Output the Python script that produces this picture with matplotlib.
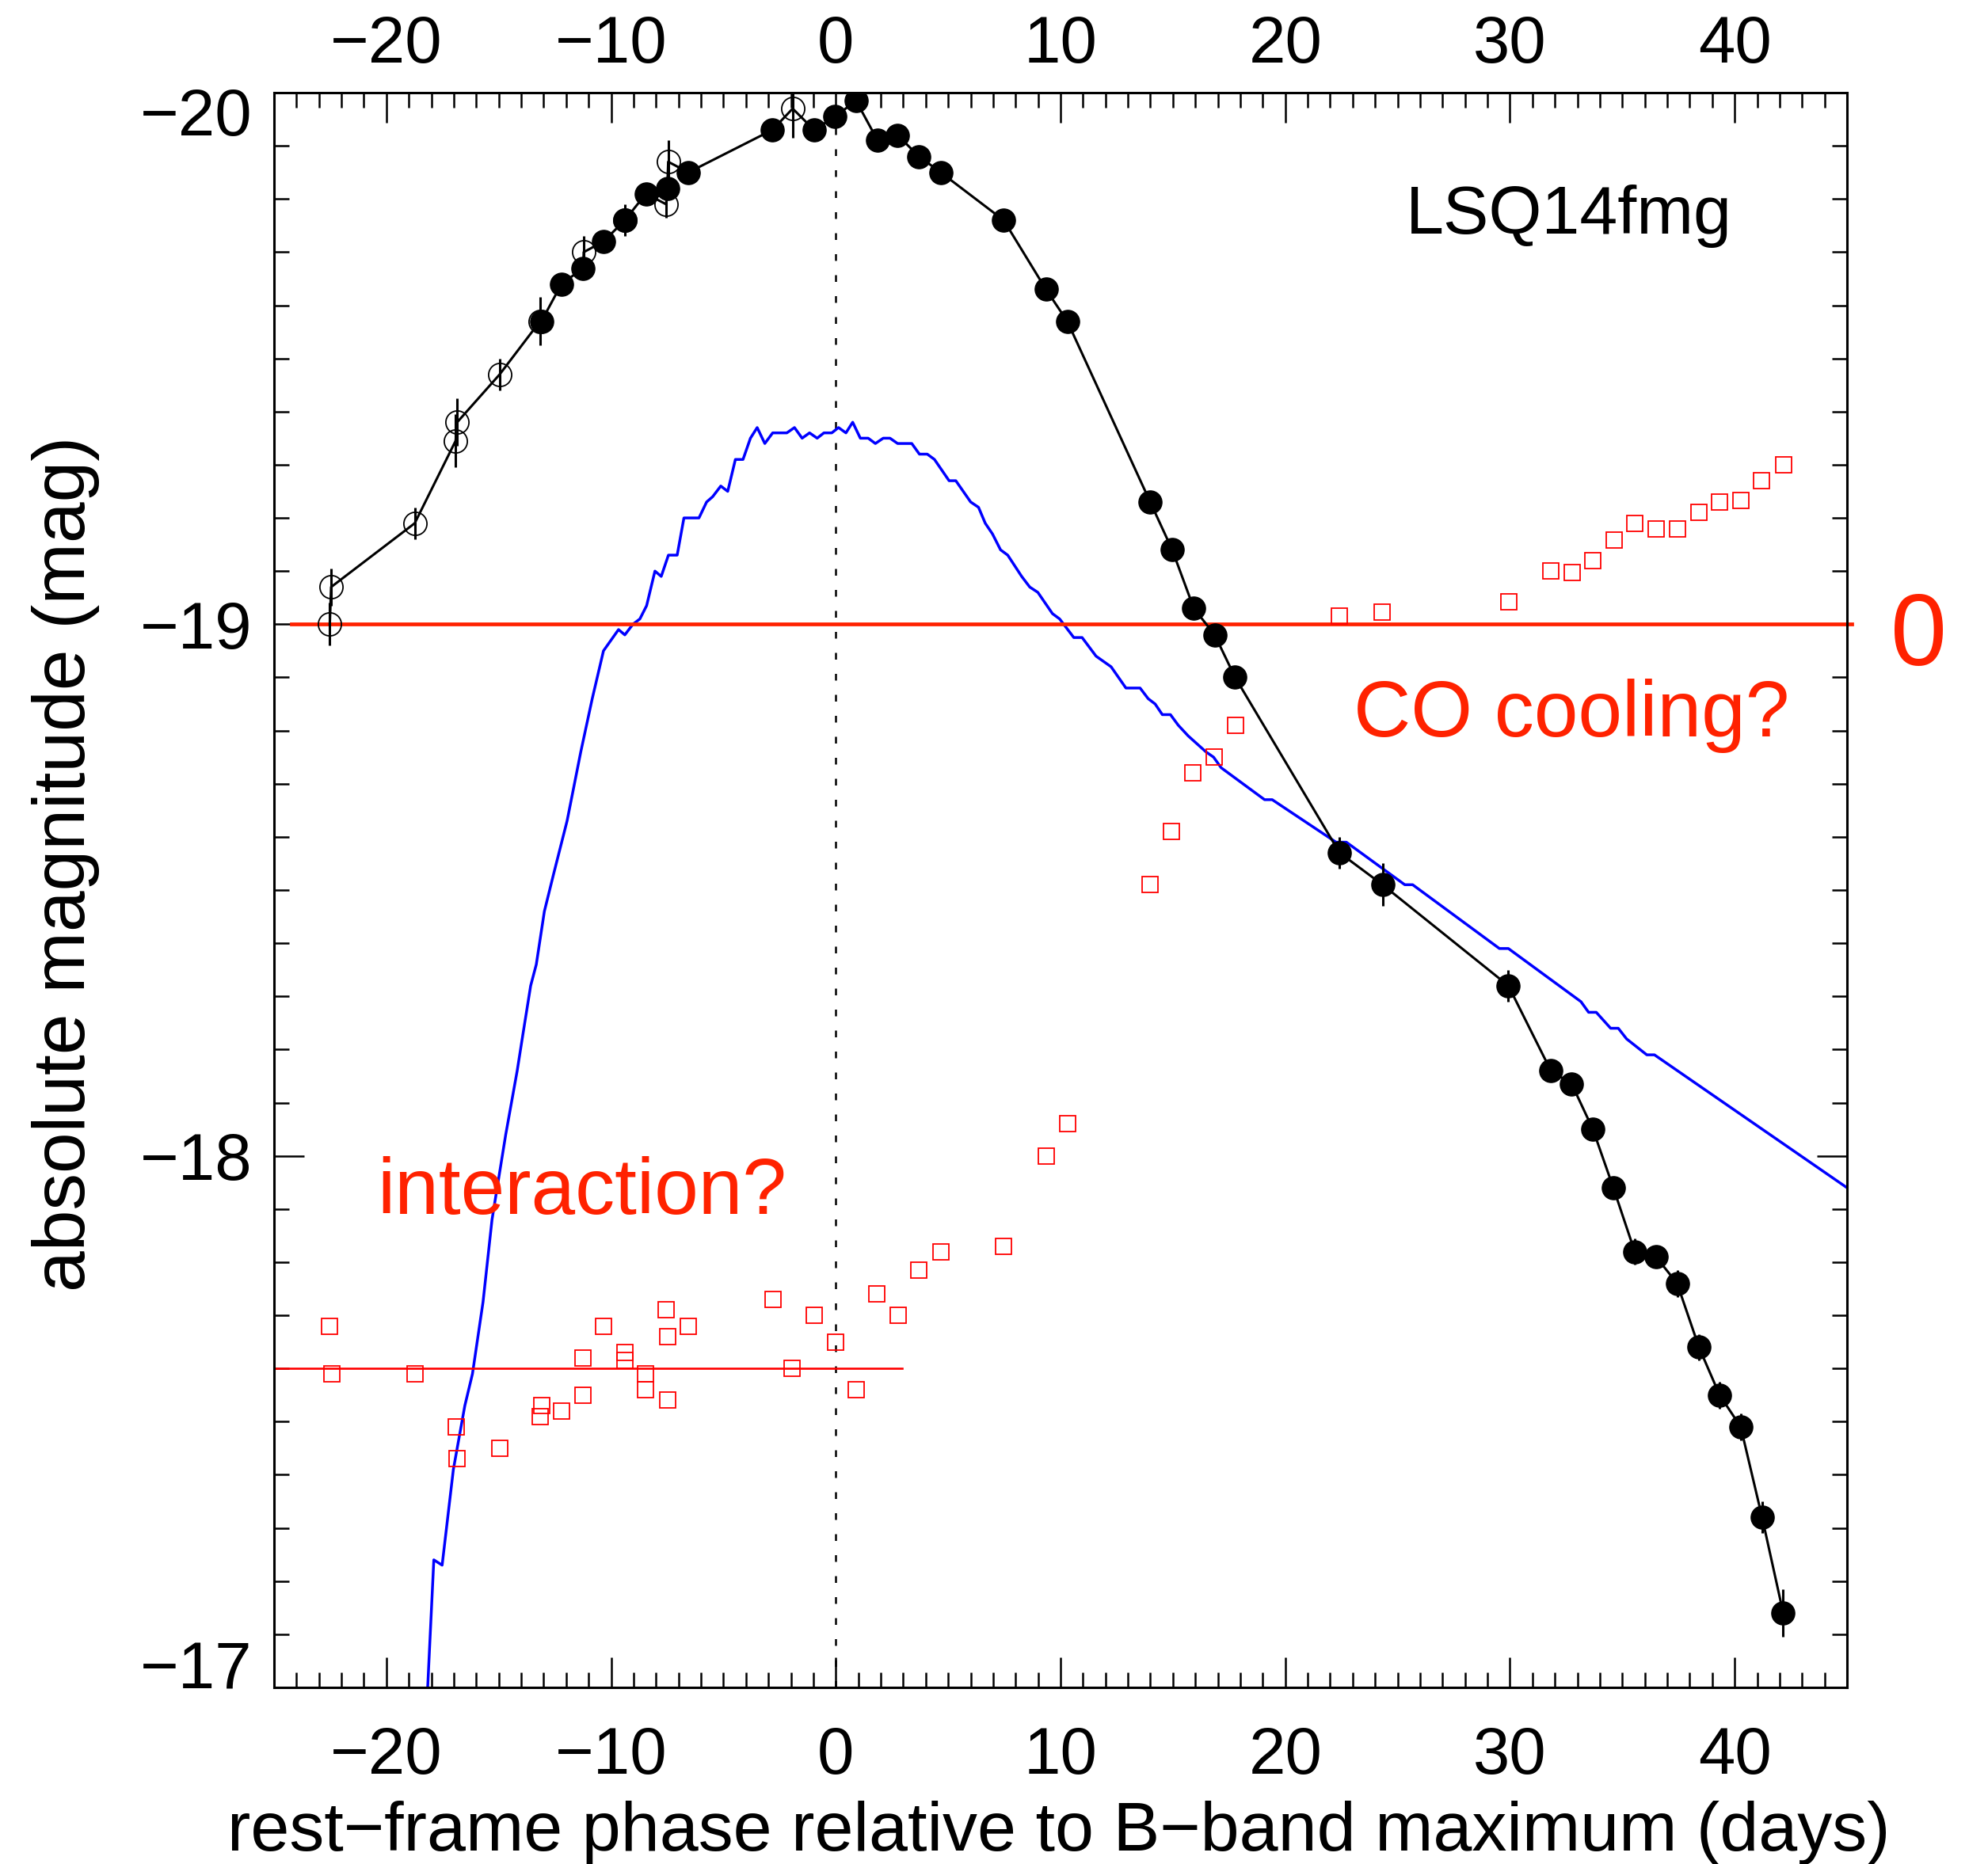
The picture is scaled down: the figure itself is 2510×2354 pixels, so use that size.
"""
LSQ14fmg light curve with colour curve and model (recreated plot)
"""
import numpy as np
import matplotlib
matplotlib.use('Agg')
import matplotlib.pyplot as plt
import matplotlib.transforms as mtransforms
from matplotlib.ticker import MultipleLocator, FixedLocator

plt.rcParams['font.family'] = ['Liberation Sans', 'DejaVu Sans']

# 开放圆点（早期测光）
open_phase = [-22.52, -22.46, -18.74, -16.92, -16.85, -14.96, -13.16, -11.22, -9.39, -7.55, -7.46, -1.92]
open_mag = [-19.00, -19.07, -19.19, -19.345, -19.38, -19.47, -19.57, -19.70, -19.76, -19.79, -19.87, -19.97]
open_err = [0.04, 0.035, 0.03, 0.05, 0.045, 0.03, 0.045, 0.03, 0.03, 0.025, 0.04, 0.055]

# 实心圆点
fill_phase = [-13.10, -12.21, -11.24, -10.34, -9.39, -8.45, -7.50, -6.56, -2.82, -0.97,
              -0.03, 0.90, 1.86, 2.75, 3.70, 4.67, 7.47, 9.35, 10.30, 13.99,
              14.97, 15.93, 16.86, 17.77, 22.42, 24.33, 29.93, 31.82, 32.75, 33.69,
              34.60, 35.55, 36.50, 37.44, 38.41, 39.33, 40.27, 41.22, 42.16]
fill_mag = [-19.57, -19.64, -19.67, -19.72, -19.76, -19.81, -19.82, -19.85, -19.93, -19.93,
            -19.955, -19.985, -19.91, -19.92, -19.88, -19.85, -19.76, -19.63, -19.57, -19.23,
            -19.14, -19.03, -18.98, -18.90, -18.57, -18.51, -18.32, -18.16, -18.135, -18.05,
            -17.94, -17.82, -17.81, -17.76, -17.64, -17.55, -17.49, -17.32, -17.14]
fill_err = [0.02, 0.0, 0.0, 0.0, 0.02, 0.02, 0.0, 0.0, 0.0, 0.0,
            0.0, 0.0, 0.0, 0.0, 0.0, 0.0, 0.0, 0.0, 0.0, 0.0,
            0.0, 0.02, 0.0, 0.0, 0.03, 0.04, 0.03, 0.0, 0.0, 0.0,
            0.01, 0.025, 0.02, 0.025, 0.025, 0.025, 0.025, 0.03, 0.045]

# 颜色曲线（红色方块）
color_phase = [-22.52, -22.44, -18.74, -16.91, -16.85, -14.97, -13.17, -13.07, -12.20, -11.25,
               -11.25, -10.34, -9.39, -9.39, -8.46, -8.46, -7.57, -7.49, -7.49, -6.58,
               -2.81, -1.94, -0.95, -0.02, 0.91, 1.84, 2.77, 3.70, 4.67, 7.47,
               9.35, 10.30, 13.98, 14.94, 15.88, 16.84, 17.78, 22.41, 24.31, 29.96,
               31.83, 32.76, 33.69, 34.63, 35.56, 36.51, 37.44, 38.42, 39.33, 40.26,
               41.21, 42.18]
color_val = [-17.68, -17.59, -17.59, -17.49, -17.43, -17.45, -17.51, -17.53, -17.52, -17.62,
             -17.55, -17.68, -17.63, -17.615, -17.59, -17.56, -17.71, -17.66, -17.54, -17.68,
             -17.73, -17.60, -17.70, -17.65, -17.56, -17.74, -17.70, -17.785, -17.82, -17.83,
             -18.00, -18.06, -18.51, -18.61, -18.72, -18.75, -18.81, -19.016, -19.023, -19.042,
             -19.10, -19.097, -19.12, -19.158, -19.19, -19.18, -19.18, -19.21, -19.23, -19.233,
             -19.27, -19.30]

# 模型曲线（蓝色）
model_phase = [-18.30, -17.89, -17.52, -17.02, -16.51, -16.17, -15.70, -15.30, -14.69, -14.18,
               -13.92, -13.58, -13.33, -12.97, -12.56, -11.96, -11.35, -10.84, -10.34, -9.67,
               -9.39, -9.03, -8.72, -8.42, -8.05, -7.77, -7.45, -7.06, -6.76, -6.09,
               -5.75, -5.48, -5.12, -4.81, -4.47, -4.13, -3.80, -3.50, -3.16, -2.81,
               -2.18, -1.84, -1.50, -1.17, -0.83, -0.53, -0.18, 0.12, 0.45, 0.75,
               1.09, 1.44, 1.76, 2.11, 2.41, 2.75, 3.38, 3.72, 4.07, 4.39,
               5.04, 5.34, 6.00, 6.35, 6.65, 6.97, 7.33, 7.65, 8.27, 8.63,
               8.99, 9.64, 9.96, 10.59, 10.96, 11.58, 12.25, 12.91, 13.54, 13.90,
               14.21, 14.53, 14.89, 15.24, 15.68, 16.47, 16.81, 17.15, 19.08, 19.42,
               22.26, 22.72, 25.32, 25.67, 29.53, 29.93, 33.16, 33.50, 33.84, 34.48,
               34.82, 35.19, 36.09, 36.43, 45.00]
model_mag = [-16.88, -17.24, -17.23, -17.41, -17.53, -17.59, -17.725, -17.88, -18.04, -18.16,
             -18.23, -18.32, -18.36, -18.46, -18.53, -18.63, -18.76, -18.86, -18.95, -18.99,
             -18.98, -19.00, -19.01, -19.035, -19.10, -19.09, -19.13, -19.13, -19.20, -19.20,
             -19.23, -19.24, -19.26, -19.25, -19.31, -19.31, -19.35, -19.37, -19.34, -19.36,
             -19.36, -19.37, -19.35, -19.36, -19.35, -19.36, -19.36, -19.37, -19.36, -19.38,
             -19.35, -19.35, -19.34, -19.35, -19.35, -19.34, -19.34, -19.32, -19.32, -19.31,
             -19.27, -19.27, -19.23, -19.22, -19.19, -19.17, -19.14, -19.13, -19.09, -19.07,
             -19.06, -19.02, -19.01, -18.975, -18.975, -18.94, -18.92, -18.88, -18.88, -18.86,
             -18.85, -18.83, -18.83, -18.81, -18.79, -18.76, -18.75, -18.73, -18.67, -18.67,
             -18.59, -18.59, -18.51, -18.51, -18.39, -18.39, -18.29, -18.27, -18.27, -18.24,
             -18.24, -18.22, -18.19, -18.19, -17.94]

# 参考线
zero_level = -19.0
early_level = -17.60
early_span = [-25.0, 2.95]
upper_span = [-24.24, 45.2]

xticks = [-20, -10, 0, 10, 20, 30, 40]
yticks = [-20, -19, -18, -17]

RED = '#ff2200'
SQ_RED = '#ff0000'

fig = plt.figure(figsize=(25.1, 23.54), dpi=100)
ax = fig.add_axes([0.13785, 0.09473, 0.79124, 0.85556])

# 黑色连线（按相位排序）
all_phase = np.array(open_phase + fill_phase)
all_mag = np.array(open_mag + fill_mag)
order = np.argsort(all_phase, kind='stable')
ax.plot(all_phase[order], all_mag[order], color='k', lw=2.2, zorder=3)

ax.plot(model_phase, model_mag, color='#0000ff', lw=2.5, zorder=2)

ax.axvline(0, color='k', lw=1.8, ls=(0, (3.4, 7.2)), zorder=1)

ax.plot(upper_span, [zero_level, zero_level], color=RED, lw=3.4, clip_on=False, zorder=2)
ax.plot(early_span, [early_level, early_level], color=SQ_RED, lw=1.9, zorder=2)

ax.plot(color_phase, color_val, ls='none', marker='s', ms=15, mfc='none',
        mec=SQ_RED, mew=1.3, zorder=4)

ax.errorbar(open_phase, open_mag, yerr=open_err, fmt='o', ms=21, mfc='none',
            mec='k', mew=1.3, ecolor='k', elinewidth=2.2, capsize=0, zorder=5)
ax.errorbar(fill_phase, fill_mag, yerr=fill_err, fmt='o', ms=21, mfc='k',
            mec='k', ecolor='k', elinewidth=2.2, capsize=0, zorder=6)

ax.set_xlim(-25, 45)
ax.set_ylim(-17, -20)

ax.xaxis.set_major_locator(FixedLocator(xticks))
ax.xaxis.set_minor_locator(MultipleLocator(1))
ax.yaxis.set_major_locator(FixedLocator(yticks))
ax.yaxis.set_minor_locator(MultipleLocator(0.1))

ax.tick_params(which='both', direction='in', top=True, right=True, width=1.8, labelsize=60)
ax.tick_params(which='major', length=27.5)
ax.tick_params(which='minor', length=14)
ax.tick_params(axis='x', which='major', labeltop=True, labelbottom=True, pad=15)
ax.tick_params(axis='y', which='major', pad=20)
for sp in ax.spines.values():
    sp.set_linewidth(2.2)

# 底部刻度标签离轴更远
for t in ax.xaxis.get_major_ticks():
    t.label1.set_transform(t.label1.get_transform()
                           + mtransforms.ScaledTranslation(0, -0.27, fig.dpi_scale_trans))

# -20 与 -17 的标签与坐标轴边界对齐
yt = ax.yaxis.get_major_ticks()
yt[0].label1.set_transform(yt[0].label1.get_transform()
                           + mtransforms.ScaledTranslation(0, -0.23, fig.dpi_scale_trans))
yt[-1].label1.set_transform(yt[-1].label1.get_transform()
                            + mtransforms.ScaledTranslation(0, 0.29, fig.dpi_scale_trans))

ax.text(25.37, -19.735, 'LSQ14fmg', fontsize=62, ha='left', va='baseline', zorder=7)
ax.text(23.05, -18.789, 'CO cooling?', fontsize=72, color=RED, ha='left', va='baseline', zorder=7)
ax.text(-20.42, -17.891, 'interaction?', fontsize=72, color=RED, ha='left', va='baseline', zorder=7)
ax.text(48.2, -18.992, '0', fontsize=92, color=RED, ha='center', va='center_baseline', clip_on=False)

fig.text(0.5325, 0.0072, 'rest\u2212frame phase relative to B\u2212band maximum (days)',
         fontsize=63.4, ha='center', va='baseline')
fig.text(0.0426, 0.5365, 'absolute magnitude (mag)', fontsize=67, rotation=90,
         rotation_mode='anchor', ha='center', va='baseline')

fig.savefig('out.png', dpi=100)
